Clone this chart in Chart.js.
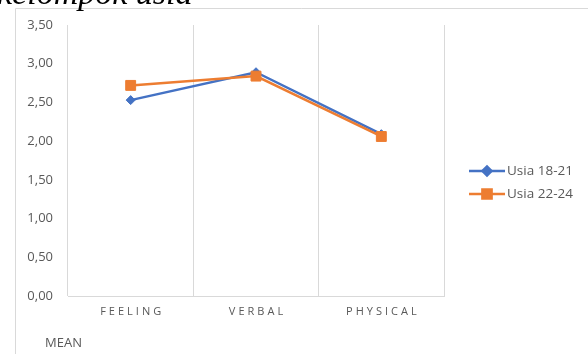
<!DOCTYPE html>
<html><head><meta charset="utf-8">
<script src="https://cdn.jsdelivr.net/npm/chart.js@4/dist/chart.umd.min.js"></script>
<style>
html,body{margin:0;padding:0;background:#fff;overflow:hidden}
#wrap{position:relative;width:588px;height:354px;overflow:hidden}
#title{position:absolute;left:-3px;top:-24px;font:italic 34px "Liberation Serif",serif;line-height:34px;color:#000;white-space:nowrap;z-index:2}
canvas{position:absolute;left:0;top:0}
</style></head><body>
<div id="wrap"><canvas id="c" width="588" height="354"></canvas><div id="title">kelompok usia</div></div>
<script>
const categories = ['FEELING', 'VERBAL', 'PHYSICAL'];
const usia1821 = [2.53, 2.89, 2.09];
const usia2224 = [2.72, 2.84, 2.06];
const seriesLabels = ['Usia 18-21', 'Usia 22-24'];
const yTicks = [0, 0.5, 1, 1.5, 2, 2.5, 3, 3.5];
const axisTitle = 'MEAN';

const fmt = v => Number(v).toFixed(2).replace('.', ',');

const deco = {
  id: 'deco',
  beforeDraw(chart) {
    const ctx = chart.ctx;
    ctx.save();
    ctx.fillStyle = '#fff';
    ctx.fillRect(0, 0, chart.width, chart.height);
    ctx.strokeStyle = '#d9d9d9';
    ctx.lineWidth = 1;
    ctx.beginPath();
    ctx.moveTo(15.5, 354); ctx.lineTo(15.5, 8.5); ctx.lineTo(588, 8.5);
    ctx.stroke();
    ctx.restore();
  },
  afterDraw(chart) {
    const ctx = chart.ctx, xs = chart.scales.x;
    ctx.save();
    ctx.fillStyle = '#595959';
    ctx.font = '11px "Open Sans"';
    ctx.letterSpacing = '3px';
    ctx.textAlign = 'center';
    ctx.textBaseline = 'middle';
    categories.forEach((c, i) => ctx.fillText(c, xs.getPixelForValue(i) + 1.5, 312));
    ctx.letterSpacing = '0px';
    ctx.font = '13px "Open Sans"';
    ctx.textAlign = 'left';
    ctx.fillText(axisTitle, 45, 343);
    chart.data.datasets.forEach((ds, i) => {
      const y = 171 + i * 23;
      ctx.strokeStyle = ds.borderColor;
      ctx.lineWidth = 2.5;
      ctx.beginPath(); ctx.moveTo(469, y); ctx.lineTo(505, y); ctx.stroke();
      ctx.fillStyle = ds.borderColor;
      ctx.strokeStyle = ds.borderColor;
      Chart.helpers.drawPoint(ctx, {pointStyle: ds.pointStyle, radius: ds.pointStyle === 'rect' ? 6.5 : 4.5, borderWidth: 1, rotation: 0}, 487, y);
      ctx.fillStyle = '#595959';
      ctx.font = '13.5px "Open Sans"';
      ctx.textAlign = 'left';
      ctx.textBaseline = 'middle';
      ctx.fillText(ds.label, 507, y);
    });
    ctx.restore();
  }
};

new Chart(document.getElementById('c'), {
  type: 'line',
  data: {
    labels: categories,
    datasets: [
      {label: seriesLabels[0], data: usia1821, borderColor: '#4472C4', backgroundColor: '#4472C4',
       pointStyle: 'rectRot', pointRadius: 4.5, pointBorderWidth: 1, borderWidth: 2.5, order: 1, tension: 0},
      {label: seriesLabels[1], data: usia2224, borderColor: '#ED7D31', backgroundColor: '#ED7D31',
       pointStyle: 'rect', pointRadius: 7, pointBorderWidth: 1, borderWidth: 2.5, order: 0, tension: 0}
    ]
  },
  options: {
    responsive: false,
    animation: false,
    layout: {padding: {left: 0, top: 25, right: 144, bottom: 58}},
    plugins: {legend: {display: false}, tooltip: {enabled: false}, title: {display: false}},
    scales: {
      x: {
        offset: true,
        grid: {offset: true, color: '#d9d9d9', drawTicks: false, lineWidth: 1},
        border: {color: '#d9d9d9'},
        ticks: {display: false},
        afterFit(s) { s.height = 0; }
      },
      y: {
        min: 0, max: 3.5,
        afterBuildTicks(s) { s.ticks = yTicks.map(v => ({value: v})); },
        ticks: {callback: v => fmt(v), color: '#595959', font: {family: 'Open Sans', size: 13}, padding: 15},
        grid: {display: false, drawTicks: false},
        border: {display: false},
        afterFit(s) { s.width = 68; }
      }
    }
  },
  plugins: [deco]
});
</script>
</body></html>
